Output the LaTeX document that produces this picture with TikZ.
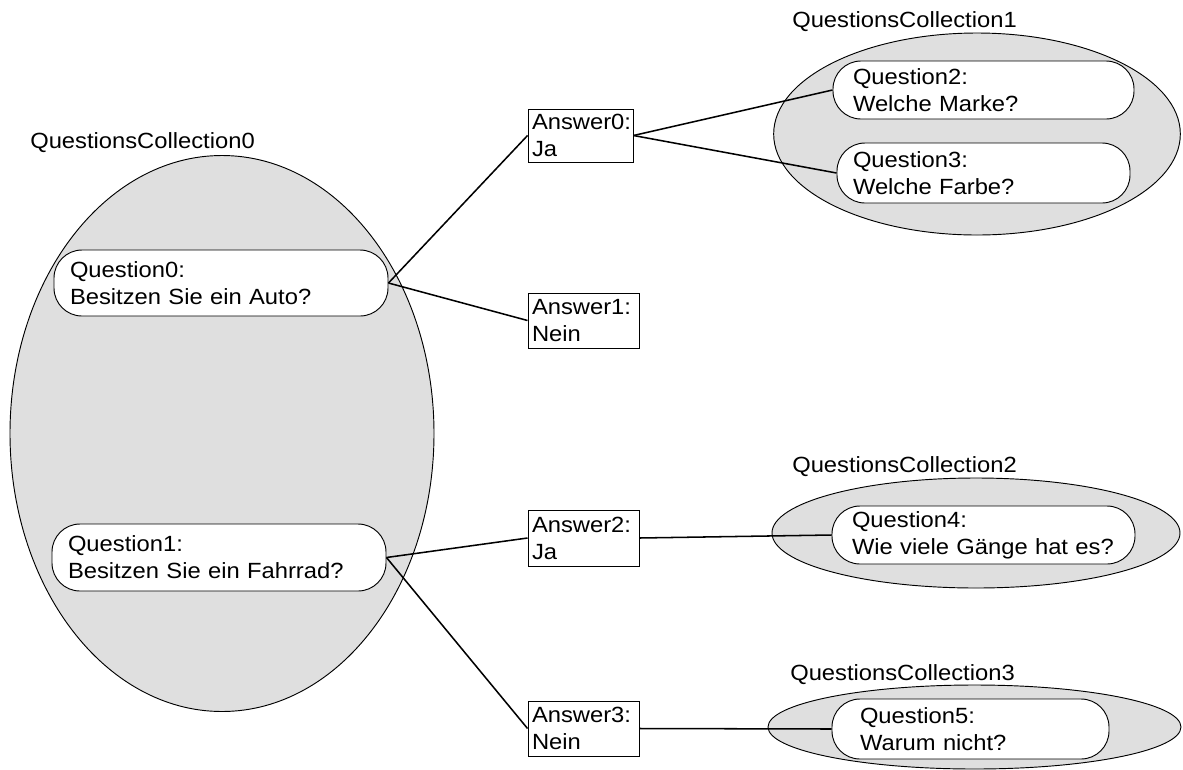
\documentclass[tikz,border=0pt]{standalone}
\usepackage{fontspec}
\setmainfont{Liberation Sans}[FakeStretch=1.08]
\usetikzlibrary{shapes.geometric}
\definecolor{collfill}{HTML}{DFDFDF}
\begin{document}
\begin{tikzpicture}[x=0.75pt,y=-0.75pt,
  font=\fontsize{16.5}{20.25}\selectfont,
  coll/.style={ellipse, draw, fill=collfill, line width=0.7pt, inner sep=0pt},
  quest/.style={draw, fill=white, line width=0.7pt, rounded corners=21pt, align=left, inner xsep=12pt, inner ysep=0pt},
  answ/.style={draw, fill=white, line width=0.7pt, align=left, inner xsep=3pt, inner ysep=0pt},
  lbl/.style={anchor=west, inner sep=0pt},
  conn/.style={line width=1.15pt}]
\useasboundingbox (0,0) rectangle (1183,769);
\fill[white] (0,0) rectangle (1183,769);

% collections
\node[coll, minimum width=318pt, minimum height=417pt] (c0) at (222,433.5) {};
\node[coll, minimum width=305pt, minimum height=151.5pt] (c1) at (977,134) {};
\node[coll, minimum width=306pt, minimum height=82.5pt] (c2) at (976,533) {};
\node[coll, minimum width=309.75pt, minimum height=63pt] (c3) at (974.5,727) {};

\node[lbl] (l0) at (30,143) {QuestionsCollection0};
\node[lbl] (l1) at (792,22) {QuestionsCollection1};
\node[lbl] (l2) at (792,467) {QuestionsCollection2};
\node[lbl] (l3) at (790,675) {QuestionsCollection3};

% questions
\node[quest, text width=226.5pt, minimum height=49.5pt] (q0) at (221,283) {Question0:\\Besitzen Sie ein Auto?};
\node[quest, text width=226.5pt, minimum height=50.25pt] (q1) at (219,557.5) {Question1:\\Besitzen Sie ein Fahrrad?};
\node[quest, inner xsep=15pt, text width=195.75pt, minimum height=43.5pt] (q2) at (983.5,90) {Question2:\\Welche Marke?};
\node[quest, text width=195.75pt, minimum height=45pt] (q3) at (983.5,173) {Question3:\\Welche Farbe?};
\node[quest, inner xsep=15pt, text width=197.25pt, minimum height=43.5pt] (q4) at (983.5,535) {Question4:\\Wie viele Gänge hat es?};
\node[quest, inner xsep=21pt, text width=165.75pt, minimum height=45pt] (q5) at (970.5,729) {Question5:\\Warum nicht?};

% answers
\node[answ, text width=72.75pt, minimum height=39.75pt] (a0) at (580.5,135.5) {Answer0:\\Ja};
\node[answ, text width=77.25pt, minimum height=41.25pt] (a1) at (583.5,320.5) {Answer1:\\Nein};
\node[answ, text width=77.25pt, minimum height=42pt] (a2) at (583.5,538) {Answer2:\\Ja};
\node[answ, text width=77.25pt, minimum height=41.25pt] (a3) at (583.5,728.5) {Answer3:\\Nein};

% connectors
\draw[conn] (q0.east) -- (a0.west);
\draw[conn] (q0.east) -- (a1.west);
\draw[conn] (a0.east) -- (q2.west);
\draw[conn] (a0.east) -- (q3.west);
\draw[conn] (q1.east) -- (a2.west);
\draw[conn] (q1.east) -- (a3.west);
\draw[conn] (a2.east) -- (q4.west);
\draw[conn] (a3.east) -- (q5.west);
\end{tikzpicture}
\end{document}
